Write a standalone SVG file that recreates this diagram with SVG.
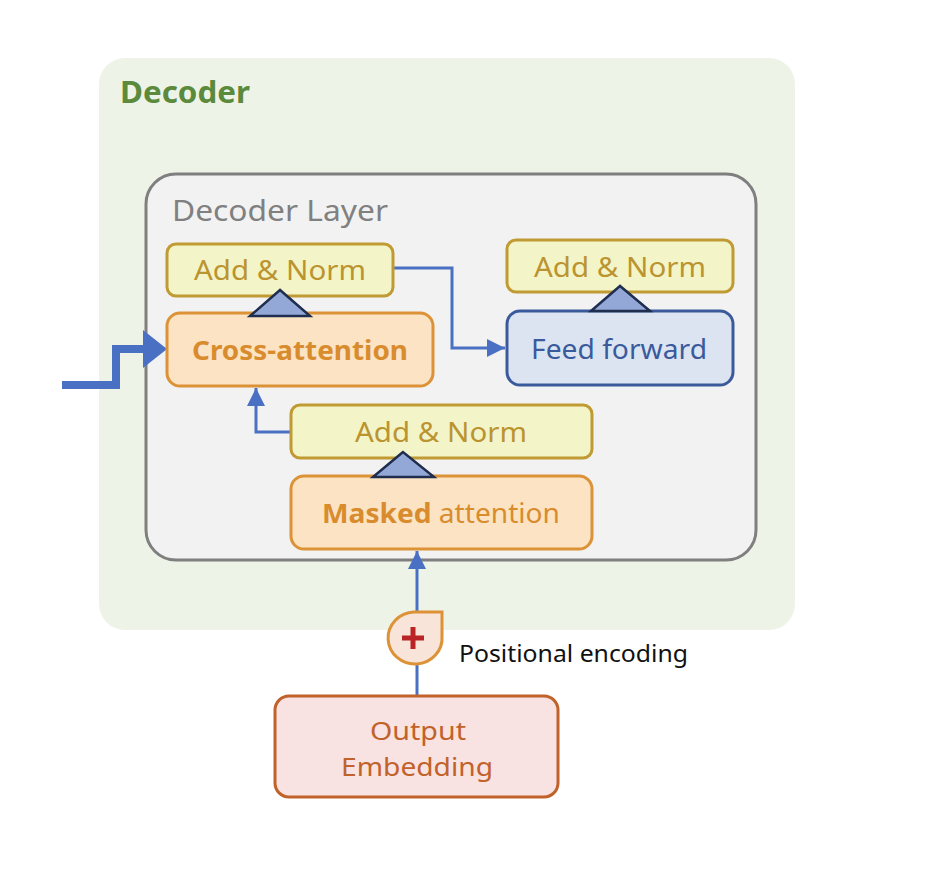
<svg xmlns="http://www.w3.org/2000/svg" width="926" height="870" viewBox="0 0 926 870">
<defs>
<style>
text{font-family:"Noto Sans","Open Sans","DejaVu Sans",sans-serif}
.an{fill:#f3f5c8;stroke:#c09a32;stroke-width:3}
.ant{fill:#bb9430;font-size:28px;text-anchor:middle}
.att{fill:#fbe3c3;stroke:#dc9236;stroke-width:3}
.attt{fill:#d98c2e;font-size:27px;text-anchor:middle}
.tri{fill:#94a8d8;stroke:#1f2d4f;stroke-width:2.5;stroke-linejoin:miter}
.conn{fill:none;stroke:#4a70c4;stroke-width:3}
</style>
<marker id="ah" viewBox="0 0 10 10" refX="10" refY="5" markerWidth="6" markerHeight="6" markerUnits="strokeWidth" orient="auto">
<path d="M0,0L10,5L0,10z" fill="#4a70c4"/>
</marker>
</defs>
<rect width="926" height="870" fill="#ffffff"/>
<g id="decoder">
<rect x="99" y="58" width="696" height="572" rx="26" fill="#eef3e7"/>
<text x="120" y="103" font-size="30" font-weight="bold" fill="#5b8a3c" textLength="130" lengthAdjust="spacingAndGlyphs">Decoder</text>
</g>
<g id="decoder-layer">
<rect x="146" y="174" width="610" height="386" rx="30" fill="#f2f2f2" stroke="#7f7f7f" stroke-width="3"/>
<text x="172" y="221" font-size="29" fill="#808080" textLength="216" lengthAdjust="spacingAndGlyphs">Decoder Layer</text>
</g>
<g id="connectors">
<path d="M62,385H116V349H146" fill="none" stroke="#4a70c4" stroke-width="8"/>
<polygon points="143,330 167,349 143,368" fill="#4a70c4"/>
<path class="conn" d="M393,268H452V348H505" marker-end="url(#ah)"/>
<path class="conn" d="M291,432H256V388" marker-end="url(#ah)"/>
<path class="conn" d="M417,695V551" marker-end="url(#ah)"/>
</g>
<g id="add-norm-1">
<rect class="an" x="167" y="244" width="226" height="52" rx="9"/>
<text class="ant" x="280" y="280" textLength="172" lengthAdjust="spacingAndGlyphs">Add &amp; Norm</text>
</g>
<g id="cross-attention">
<rect class="att" x="167" y="313" width="266" height="73" rx="13"/>
<text class="attt" x="300" y="360" font-weight="bold" textLength="216" lengthAdjust="spacingAndGlyphs">Cross-attention</text>
<polygon class="tri" points="280,290 250,316 310,316"/>
</g>
<g id="add-norm-2">
<rect class="an" x="507" y="240" width="226" height="52" rx="9"/>
<text class="ant" x="620" y="277" textLength="172" lengthAdjust="spacingAndGlyphs">Add &amp; Norm</text>
</g>
<g id="feed-forward">
<rect x="507" y="311" width="226" height="74" rx="13" fill="#dce4f2" stroke="#3a5a9c" stroke-width="3"/>
<text x="619" y="359" font-size="27" text-anchor="middle" fill="#3a5a9c" textLength="176" lengthAdjust="spacingAndGlyphs">Feed forward</text>
<polygon class="tri" points="620,286 591,311 650,311"/>
</g>
<g id="add-norm-3">
<rect class="an" x="291" y="405" width="301" height="53" rx="9"/>
<text class="ant" x="441" y="442" textLength="172" lengthAdjust="spacingAndGlyphs">Add &amp; Norm</text>
</g>
<g id="masked-attention">
<rect class="att" x="291" y="476" width="301" height="73" rx="13"/>
<text class="attt" x="441" y="523" textLength="238" lengthAdjust="spacingAndGlyphs"><tspan font-weight="bold">Masked</tspan> attention</text>
<polygon class="tri" points="403,452 373,477 434,477"/>
</g>
<g id="positional-encoding">
<path d="M442,612 L442,636 A27,26 0 1 1 414,612 Z" fill="#f8e4d9" stroke="#dc9236" stroke-width="3"/>
<path d="M413,627V649M402,638H424" stroke="#bb2426" stroke-width="5"/>
<text x="459" y="662" font-size="23" fill="#111111" textLength="229" lengthAdjust="spacingAndGlyphs">Positional encoding</text>
</g>
<g id="output-embedding">
<rect x="275" y="696" width="283" height="101" rx="14" fill="#f9e2e2" stroke="#c1622b" stroke-width="3"/>
<text x="418" y="740" font-size="25" text-anchor="middle" fill="#c1622b" textLength="96" lengthAdjust="spacingAndGlyphs">Output</text>
<text x="417" y="776" font-size="25" text-anchor="middle" fill="#c1622b" textLength="152" lengthAdjust="spacingAndGlyphs">Embedding</text>
</g>
</svg>
